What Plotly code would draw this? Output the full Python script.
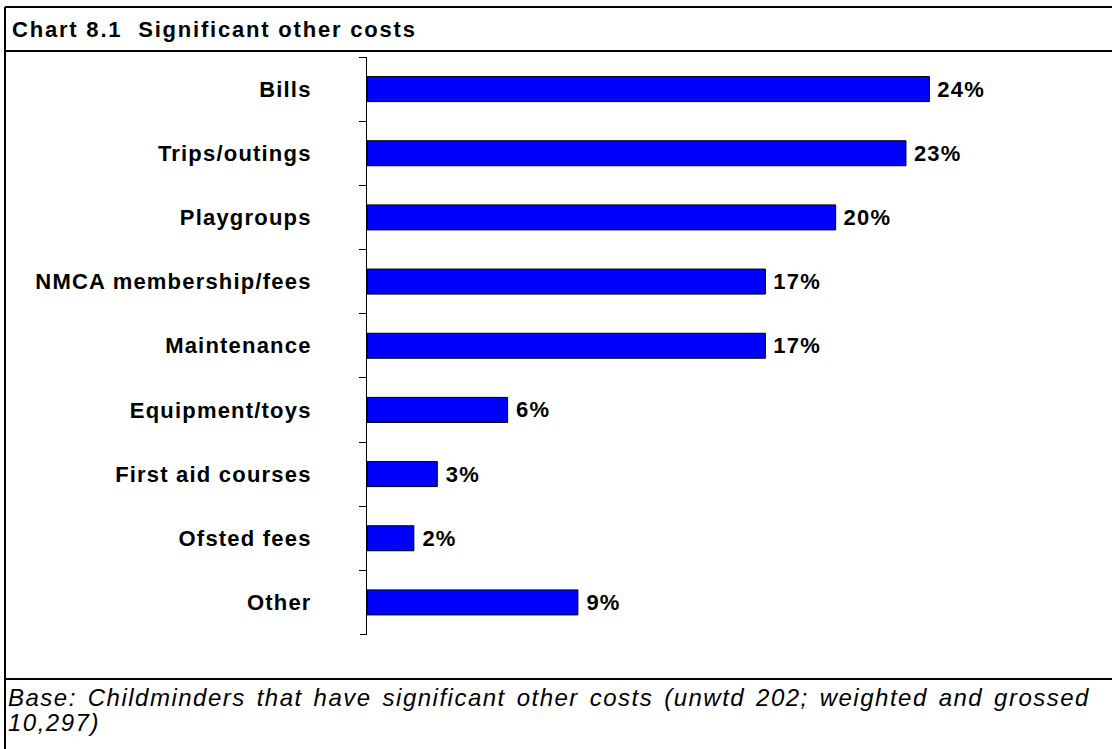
import plotly.graph_objects as go

# Survey results: share of childminders reporting each significant other cost
categories = [
    "Bills",
    "Trips/outings",
    "Playgroups",
    "NMCA membership/fees",
    "Maintenance",
    "Equipment/toys",
    "First aid courses",
    "Ofsted fees",
    "Other",
]
percentages = [24, 23, 20, 17, 17, 6, 3, 2, 9]

chart_title = "Chart 8.1  Significant other costs"
base_note_line1 = "Base: Childminders that have significant other costs (unwtd 202; weighted and grossed"
base_note_line2 = "10,297)"

W, H = 1112, 749
FONT = "Liberation Sans, Arial, sans-serif"


def px_x(x):
    return x / W


def px_y(y):
    return 1 - y / H


fig = go.Figure(
    go.Bar(
        x=percentages,
        y=categories,
        orientation="h",
        marker=dict(color="#0000FF", line=dict(color="#000000", width=1)),
        texttemplate=" %{x}%",
        textposition="outside",
        textfont=dict(family=FONT, size=22, color="#000000", weight="bold"),
        cliponaxis=False,
        hoverinfo="skip",
    )
)

fig.update_layout(
    width=W,
    height=H,
    margin=dict(l=0, r=0, t=0, b=0),
    paper_bgcolor="white",
    plot_bgcolor="white",
    showlegend=False,
    bargap=0.61,
    xaxis=dict(
        domain=[px_x(367), px_x(1070)],
        range=[0, 30],
        visible=False,
        fixedrange=True,
    ),
    yaxis=dict(
        domain=[px_y(635), px_y(57)],
        type="category",
        categoryorder="array",
        categoryarray=categories,
        autorange="reversed",
        showline=True,
        linecolor="#000000",
        linewidth=1,
        ticks="outside",
        tickson="boundaries",
        ticklen=7,
        tickwidth=1,
        tickcolor="#000000",
        showgrid=False,
        zeroline=False,
        ticklabelstandoff=50,
        tickfont=dict(family=FONT, size=22, color="#000000", weight="bold"),
        fixedrange=True,
    ),
)

# Closing tick at the bottom end of the category axis
fig.add_shape(type="line", xref="paper", yref="y",
              x0=px_x(360), x1=px_x(367),
              y0=len(categories) - 0.5, y1=len(categories) - 0.5,
              line=dict(color="#000000", width=1))

# Frame: outer border, title separator and footer separator
frame = dict(color="#000000", width=2)
fig.add_shape(type="line", xref="paper", yref="paper",
              x0=px_x(5), x1=px_x(5), y0=px_y(7), y1=0, line=frame)
fig.add_shape(type="line", xref="paper", yref="paper",
              x0=px_x(5), x1=1, y0=px_y(7), y1=px_y(7), line=frame)
fig.add_shape(type="line", xref="paper", yref="paper",
              x0=px_x(5), x1=1, y0=px_y(51), y1=px_y(51), line=frame)
fig.add_shape(type="line", xref="paper", yref="paper",
              x0=px_x(5), x1=1, y0=px_y(679), y1=px_y(679), line=frame)

fig.add_annotation(
    text=chart_title, xref="paper", yref="paper",
    x=px_x(10), y=px_y(29), xanchor="left", yanchor="middle", align="left",
    showarrow=False,
    font=dict(family=FONT, size=22, color="#000000", weight="bold"),
)
fig.add_annotation(
    text=base_note_line1, xref="paper", yref="paper",
    x=px_x(6), y=px_y(697), xanchor="left", yanchor="middle", align="left",
    showarrow=False,
    font=dict(family=FONT, size=24, color="#000000", style="italic"),
)
fig.add_annotation(
    text=base_note_line2, xref="paper", yref="paper",
    x=px_x(6), y=px_y(722), xanchor="left", yanchor="middle", align="left",
    showarrow=False,
    font=dict(family=FONT, size=24, color="#000000", style="italic"),
)

# Spaced lettering for the text, and a justified first line of the base note
post_js = """
(function () {
  var st = document.createElement('style');
  st.textContent = 'g.ytick text, text.bartext { letter-spacing: 1.2px; }';
  document.head.appendChild(st);
  var gd = document.getElementById('{plot_id}');
  function style() {
    gd.querySelectorAll('text.annotation-text').forEach(function (t) {
      var s = t.textContent;
      t.style.letterSpacing = s.indexOf('Chart') === 0 ? '1.8px' : '1.5px';
      if (s.indexOf('Base:') === 0) {
        t.style.wordSpacing = '0px';
        var r = t.getBoundingClientRect();
        var gaps = (s.match(/ /g) || []).length;
        var extra = 1098 - r.right;
        if (gaps > 0) {
          t.style.wordSpacing = (extra / gaps).toFixed(2) + 'px';
        }
      }
    });
  }
  style();
  if (gd && gd.on) { gd.on('plotly_afterplot', style); }
})();
"""

fig.write_html("out.html", post_script=post_js, config={"displayModeBar": False})
